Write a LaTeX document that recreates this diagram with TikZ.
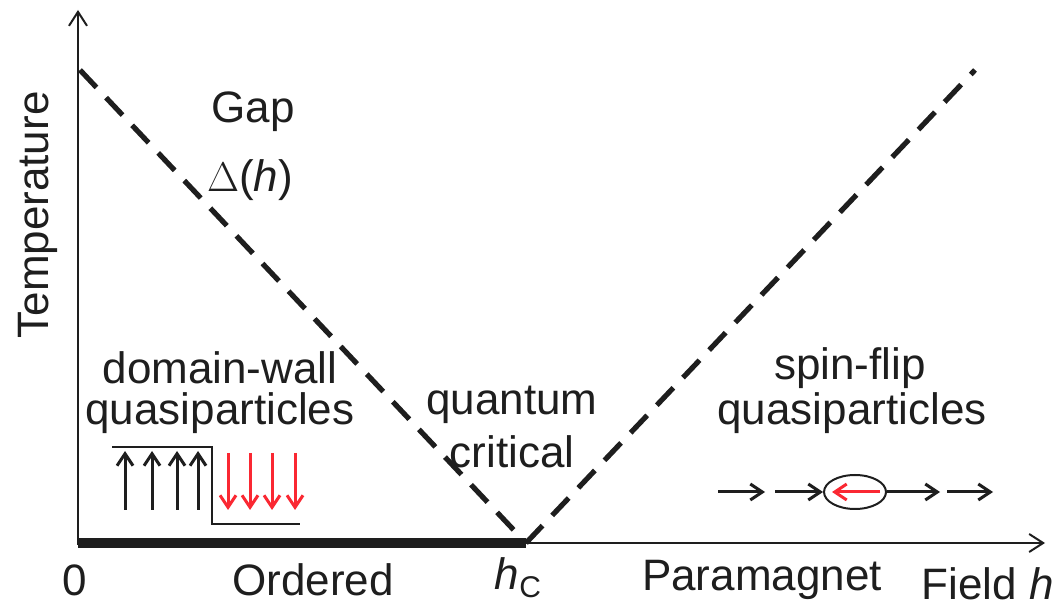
\documentclass[tikz,border=0pt]{standalone}
\usepackage{fontspec}
\setmainfont{Liberation Sans}
\usepackage{tikz}
\usetikzlibrary{arrows.meta,calc,positioning,shapes.geometric}
\definecolor{flip}{RGB}{250,40,50}
\definecolor{ink}{RGB}{30,30,30}

\begin{document}
\begin{tikzpicture}[x=0.5pt,y=0.5pt,
  lbl/.style={font=\fontsize{22}{26}\selectfont,inner sep=0pt,text=ink},
  axis/.style={line width=1pt,ink,-{Straight Barb[length=7pt,width=9pt]}},
  gapline/.style={line width=2.6pt,ink,dash pattern=on 12pt off 7pt},
  spin/.style={line width=1.5pt,ink,-{Straight Barb[length=6pt,width=8pt,line width=1.5pt]}},
  spinred/.style={line width=1.5pt,flip,-{Straight Barb[length=6pt,width=8pt,line width=1.5pt]}}]
  \useasboundingbox (0,0) rectangle (1058,609);
  % axes
  \coordinate (o) at (78,66);
  \coordinate (ytop) at (78,599);
  \coordinate (xend) at (1045,66);
  \coordinate (hc) at (526,66);
  \draw[axis] (78,64) -- (ytop);
  \draw[axis] (o) -- (xend);
  \draw[line width=5pt,ink] (o) -- (hc);
  % gap lines
  \coordinate (gtop) at (80,539);
  \coordinate (rtop) at (975,539);
  \draw[gapline] (gtop) -- (hc);
  \draw[gapline] (hc) -- (rtop);
  % labels
  \node[lbl] (gap) at (253,497) {Gap};
  \node[lbl] (delta) at (250,429) {$\Delta$(\textit{h})};
  \node[lbl,rotate=90] (temp) at (38,394) {Temperature};
  \node[lbl] (dw) at (220,241) {domain-wall};
  \node[lbl] (dwq) at (220,196) {quasiparticles};
  \node[lbl] (qc) at (512,204) {quantum};
  \node[lbl] (qcc) at (512,157) {critical};
  \node[lbl] (sf) at (850,241) {spin-flip};
  \node[lbl] (sfq) at (852,196) {quasiparticles};
  \node[lbl] (zero) at (75,29) {0};
  \node[lbl] (ord) at (313,29) {Ordered};
  \node[lbl] (hclbl) at (518,31) {\textit{h}\raisebox{-0.35ex}{\fontsize{15}{18}\selectfont C}};
  \node[lbl] (para) at (762,29) {Paramagnet};
  \node[lbl,anchor=east] (field) at (1054,25) {Field \textit{h}};
  % domain wall
  \coordinate (w1) at (112,162);
  \coordinate (w2) at (212,162);
  \coordinate (w3) at (212,85);
  \coordinate (w4) at (300,85);
  \draw[line width=1pt,ink] (w1) -- (w2) -- (w3) -- (w4);
  \foreach \x in {125,152,177,198}
    \draw[spin] (\x,99) -- (\x,158);
  \foreach \x in {228,250,272,295}
    \draw[spinred] (\x,156) -- (\x,99);
  % spin-flip row
  \node[draw=ink,line width=1pt,ellipse,minimum width=31pt,minimum height=17pt,inner sep=0pt] (flipped) at (855,117) {};
  \draw[spin] (718,117) -- (765,117);
  \draw[spin] (775,117) -- (flipped.west);
  \draw[spinred] (880,117) -- (832,117);
  \draw[spin] (flipped.east) -- (940,117);
  \draw[spin] (947,117) -- (993,117);
\end{tikzpicture}
\end{document}
